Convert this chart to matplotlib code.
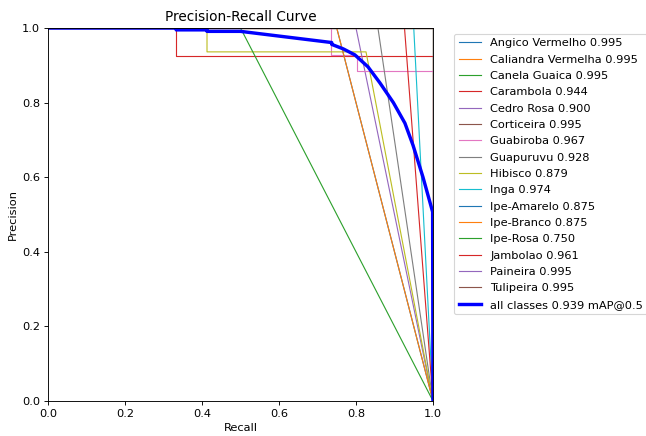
import matplotlib
matplotlib.use("Agg")
import matplotlib.pyplot as plt
from cycler import cycler

plt.rcParams["font.family"] = "DejaVu Sans"
plt.rcParams["font.size"] = 10
plt.rcParams["axes.prop_cycle"] = cycler(color=[
    "#1f77b4", "#ff7f0e", "#2ca02c", "#d62728", "#9467bd",
    "#8c564b", "#e377c2", "#7f7f7f", "#bcbd22", "#17becf"])

# per-class PR curves (vertices)
names = ["Angico Vermelho", "Caliandra Vermelha", "Canela Guaica", "Carambola",
         "Cedro Rosa", "Corticeira", "Guabiroba", "Guapuruvu", "Hibisco", "Inga",
         "Ipe-Amarelo", "Ipe-Branco", "Ipe-Rosa", "Jambolao", "Paineira", "Tulipeira"]
ap50 = [0.995, 0.995, 0.995, 0.944, 0.900, 0.995, 0.967, 0.928, 0.879, 0.974,
        0.875, 0.875, 0.750, 0.961, 0.995, 0.995]

full_r = [0.0, 1.0, 1.0]
full_p = [1.0, 1.0, 0.0]
recalls = [
    full_r,
    full_r,
    full_r,
    [0.0, 0.333, 0.333, 1.0, 1.0],
    [0.0, 0.8, 1.0],
    full_r,
    [0.0, 0.735, 0.735, 0.802, 0.802, 1.0, 1.0],
    [0.0, 0.857, 1.0],
    [0.0, 0.413, 0.413, 0.826, 1.0],
    [0.0, 0.95, 1.0],
    [0.0, 0.75, 1.0],
    [0.0, 0.75, 1.0],
    [0.0, 0.5, 1.0],
    [0.0, 0.926, 1.0],
    full_r,
    full_r,
]
precisions = [
    full_p,
    full_p,
    full_p,
    [1.0, 1.0, 0.925, 0.925, 0.0],
    [1.0, 1.0, 0.0],
    full_p,
    [1.0, 1.0, 0.928, 0.928, 0.885, 0.885, 0.0],
    [1.0, 1.0, 0.0],
    [1.0, 1.0, 0.936, 0.936, 0.0],
    [1.0, 1.0, 0.0],
    [1.0, 1.0, 0.0],
    [1.0, 1.0, 0.0],
    [1.0, 1.0, 0.0],
    [1.0, 1.0, 0.0],
    full_p,
    full_p,
]

# all classes mean curve
all_r = [0.0, 0.333, 0.333, 0.413, 0.413, 0.5, 0.737, 0.737, 0.767, 0.797,
         0.831, 0.862, 0.897, 0.927, 0.948, 0.974, 0.999, 1.0]
all_p = [1.0, 1.0, 0.995, 0.995, 0.991, 0.991, 0.961, 0.956, 0.944, 0.928,
         0.896, 0.853, 0.80, 0.745, 0.686, 0.60, 0.507, 0.0]
map50 = 0.939

DPI = 81.5
W, H = 646, 436
fig = plt.figure(figsize=(W / DPI, H / DPI), dpi=DPI, facecolor="white")
ax = fig.add_axes([48 / W, 1 - 401 / H, 385 / W, 373 / H])

for name, ap, r, p in zip(names, ap50, recalls, precisions):
    ax.plot(r, p, linewidth=1, label=f"{name} {ap:.3f}")
ax.plot(all_r, all_p, linewidth=3, color="blue", label=f"all classes {map50:.3f} mAP@0.5")

ax.set_xlabel("Recall")
ax.set_ylabel("Precision")
ax.set_xlim(0, 1)
ax.set_ylim(0, 1)
ax.set_title("Precision-Recall Curve", fontsize=12)
ax.legend(bbox_to_anchor=(1.04, 1), loc="upper left", labelspacing=0.56)

fig.savefig("out.png", dpi=DPI, facecolor="white")
plt.close(fig)
